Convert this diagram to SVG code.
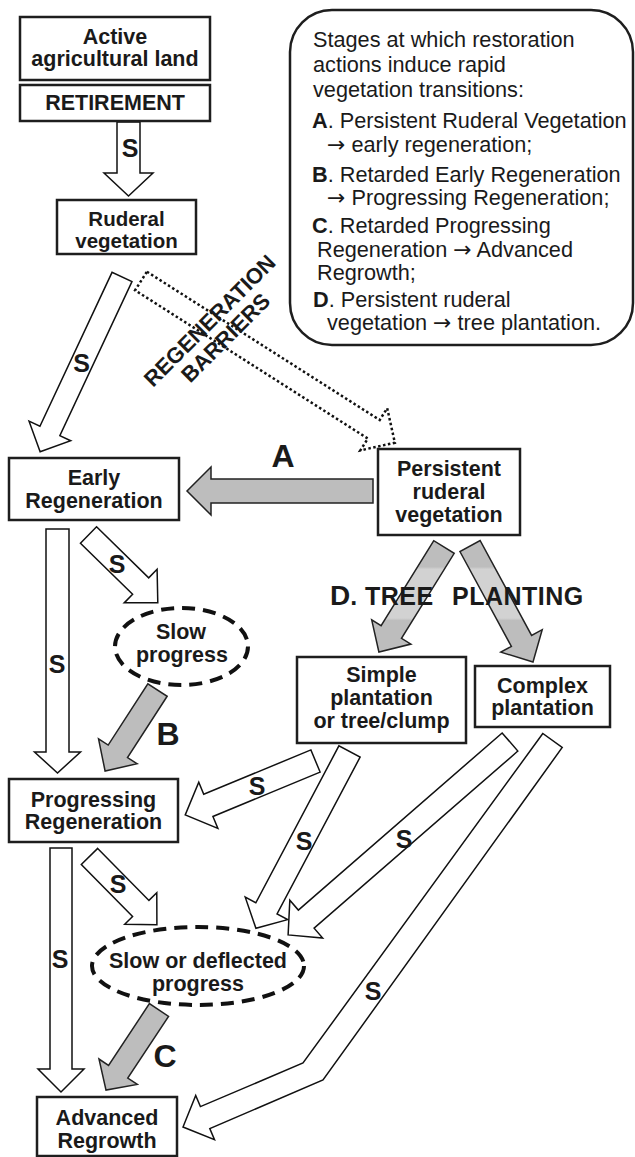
<svg xmlns="http://www.w3.org/2000/svg" width="635" height="1157" viewBox="0 0 635 1157">
<defs>
<style>
.box{fill:#fff;stroke:#1e1e1e;stroke-width:2.5}
.t{font-family:"Liberation Sans",Arial,sans-serif;font-weight:bold;font-size:21.5px;text-anchor:middle;fill:#1a1a1a}
.leg{font-family:"Liberation Sans",Arial,sans-serif;font-size:21.7px;fill:#1a1a1a}
.ar{font-family:"DejaVu Sans",sans-serif;font-size:22px}
.b{font-weight:bold}
.s{font-family:"Liberation Sans",Arial,sans-serif;font-weight:bold;font-size:25px;text-anchor:middle;fill:#1a1a1a}
.big{font-family:"Liberation Sans",Arial,sans-serif;font-weight:bold;font-size:32px;text-anchor:middle;fill:#1a1a1a}
.wa{fill:#fff;stroke:#111;stroke-width:1.5}
.ga{fill:#bdbdbd;stroke:#222;stroke-width:1.5}
.dg{fill:url(#band);stroke:#222;stroke-width:1.5}
.dot{fill:none;stroke:#111;stroke-width:2.5;stroke-dasharray:2.5 2.5}
.ell{fill:#fff;stroke:#111;stroke-width:4;stroke-dasharray:13 8}
.reg{font-family:"Liberation Sans",Arial,sans-serif;font-weight:bold;font-size:22px;text-anchor:middle;fill:#1a1a1a}
</style>
<linearGradient id="band" gradientUnits="userSpaceOnUse" x1="0" y1="540" x2="0" y2="662">
<stop offset="0" stop-color="#bdbdbd"/>
<stop offset="0.22" stop-color="#bdbdbd"/>
<stop offset="0.24" stop-color="#d2d2d2"/>
<stop offset="0.64" stop-color="#d2d2d2"/>
<stop offset="0.66" stop-color="#bdbdbd"/>
<stop offset="1" stop-color="#bdbdbd"/>
</linearGradient>
</defs>
<rect width="635" height="1157" fill="#fff"/>

<g id="connectors">
<polygon class="wa" transform="translate(128.5,122) rotate(90)" points="0,-11.5 51,-11.5 51,-24.5 74,0 51,24.5 51,11.5 0,11.5"/>
<polygon class="wa" transform="translate(122,277) rotate(115.1)" points="0,-11 170,-11 170,-23 193,0 170,23 170,11 0,11"/>
<polygon class="dot" transform="translate(141,281) rotate(32.5)" points="0,-11 276,-11 276,-25 301,0 276,25 276,11 0,11"/>
<polygon class="ga" points="373,479 211,479 211,467 187,491 211,515 211,503 373,503"/>
<polygon class="wa" transform="translate(88.5,535) rotate(44.4)" points="0,-11.5 73,-11.5 73,-23.5 97,0 73,23.5 73,11.5 0,11.5"/>
<polygon class="wa" transform="translate(57.5,529) rotate(90)" points="0,-11.5 223,-11.5 223,-23 244,0 223,23 223,11.5 0,11.5"/>
<polygon class="ga" transform="translate(157.5,690) rotate(122.9)" points="0,-11.5 73,-11.5 73,-23 96.5,0 73,23 73,11.5 0,11.5"/>
<polygon class="dg" points="433.8,540.7 381.1,625.7 371.7,619.9 378.9,652 410.9,644.1 401.5,638.3 454.2,553.3"/>
<polygon class="dg" points="459.9,551.5 511.4,646.4 500.8,652.1 533,662 542.2,629.7 531.6,635.4 480.1,540.5"/>
<polygon class="wa" transform="translate(315.5,761) rotate(157.5)" points="0,-12 116,-12 116,-25 141,0 116,25 116,12 0,12"/>
<polygon class="wa" transform="translate(349.5,751.5) rotate(117.9)" points="0,-12 177.5,-12 177.5,-24 200,0 177.5,24 177.5,12 0,12"/>
<polygon class="wa" transform="translate(510,742) rotate(139)" points="0,-12 270,-12 270,-25 294,0 270,25 270,12 0,12"/>
<polygon class="wa" points="542.8,733.5 303,1063 200.4,1106.6 195.7,1095.5 183,1127 214.5,1139.7 209.8,1128.6 323,1080 562.2,747.5"/>
<polygon class="wa" transform="translate(61,848) rotate(90)" points="0,-11 221,-11 221,-23 244,0 221,23 221,11 0,11"/>
<polygon class="wa" transform="translate(89.5,856.5) rotate(45.4)" points="0,-11.5 73,-11.5 73,-22.5 96,0 73,22.5 73,11.5 0,11.5"/>
<polygon class="ga" transform="translate(159,1010) rotate(123.5)" points="0,-11.5 74,-11.5 74,-23 96,0 74,23 74,11.5 0,11.5"/>

<text class="s" x="130" y="157">S</text>
<text class="s" x="81.5" y="372">S</text>
<text class="s" x="117" y="573">S</text>
<text class="s" x="57" y="673">S</text>
<text class="s" x="257" y="795">S</text>
<text class="s" x="304" y="850">S</text>
<text class="s" x="404" y="848">S</text>
<text class="s" x="373" y="1000">S</text>
<text class="s" x="118" y="893">S</text>
<text class="s" x="60" y="968">S</text>
<text class="big" x="283" y="467">A</text>
<text class="big" x="168" y="745">B</text>
<text class="big" x="165" y="1067">C</text>
<text class="reg" transform="translate(215,326) rotate(-45)">REGENERATION</text>
<text class="reg" transform="translate(231,343) rotate(-45)">BARRIERS</text>
<text class="t" x="330" y="605" style="text-anchor:start"><tspan style="font-size:28px">D</tspan><tspan style="font-size:25px">. </tspan><tspan x="365" style="font-size:25px;letter-spacing:0.5px">TREE </tspan><tspan x="452" style="font-size:25px;letter-spacing:0.5px">PLANTING</tspan></text>
</g>

<g id="legend">
<rect x="290" y="10" width="343" height="335" rx="42" ry="42" fill="#fff" stroke="#1e1e1e" stroke-width="2.5"/>
<text class="leg" x="313" y="47">Stages at which restoration</text>
<text class="leg" x="313" y="72">actions induce rapid</text>
<text class="leg" x="313" y="97">vegetation transitions:</text>
<text class="leg" x="312" y="128"><tspan class="b">A</tspan>. Persistent Ruderal Vegetation</text>
<text class="leg" x="327" y="152"><tspan class="ar">→</tspan> early regeneration;</text>
<text class="leg" x="312" y="182"><tspan class="b">B</tspan>. Retarded Early Regeneration</text>
<text class="leg" x="327" y="205"><tspan class="ar">→</tspan> Progressing Regeneration;</text>
<text class="leg" x="312" y="233"><tspan class="b">C</tspan>. Retarded Progressing</text>
<text class="leg" x="317" y="257">Regeneration <tspan class="ar">→</tspan> Advanced</text>
<text class="leg" x="317" y="280">Regrowth;</text>
<text class="leg" x="313" y="307"><tspan class="b">D</tspan>. Persistent ruderal</text>
<text class="leg" x="327" y="330">vegetation <tspan class="ar">→</tspan> tree plantation.</text>
</g>

<g id="active">
<rect class="box" x="20" y="17" width="190" height="63"/>
<text class="t" x="115" y="44">Active</text>
<text class="t" x="115" y="66">agricultural land</text>
</g>
<g id="retirement">
<rect class="box" x="20" y="85" width="190" height="36"/>
<text class="t" x="115" y="110">RETIREMENT</text>
</g>
<g id="ruderal">
<rect class="box" x="57" y="200" width="139" height="54"/>
<text class="t" x="126.5" y="226" style="font-size:20.5px">Ruderal</text>
<text class="t" x="126.5" y="248" style="font-size:20.5px">vegetation</text>
</g>
<g id="early">
<rect class="box" x="9" y="458" width="170" height="62"/>
<text class="t" x="94" y="485">Early</text>
<text class="t" x="94" y="508">Regeneration</text>
</g>
<g id="persistent">
<rect class="box" x="378" y="449" width="142" height="86"/>
<text class="t" x="449" y="476">Persistent</text>
<text class="t" x="449" y="499">ruderal</text>
<text class="t" x="449" y="522">vegetation</text>
</g>
<g id="slow">
<ellipse class="ell" cx="181.5" cy="646.5" rx="66.5" ry="38.5"/>
<text class="t" x="181" y="639">Slow</text>
<text class="t" x="182" y="662">progress</text>
</g>
<g id="simple">
<rect class="box" x="297" y="657" width="169" height="86"/>
<text class="t" x="381.5" y="682">Simple</text>
<text class="t" x="381.5" y="705">plantation</text>
<text class="t" x="381.5" y="728">or tree/clump</text>
</g>
<g id="complex">
<rect class="box" x="475" y="666" width="135" height="61"/>
<text class="t" x="542.5" y="693">Complex</text>
<text class="t" x="542.5" y="715">plantation</text>
</g>
<g id="progressing">
<rect class="box" x="9" y="779" width="169" height="63"/>
<text class="t" x="93.5" y="807">Progressing</text>
<text class="t" x="93.5" y="829">Regeneration</text>
</g>
<g id="slowdeflected">
<ellipse class="ell" cx="198" cy="966" rx="106" ry="39"/>
<text class="t" x="198" y="968">Slow or deflected</text>
<text class="t" x="198" y="991">progress</text>
</g>
<g id="advanced">
<rect class="box" x="37" y="1097" width="140" height="59"/>
<text class="t" x="107" y="1125">Advanced</text>
<text class="t" x="107" y="1148">Regrowth</text>
</g>
</svg>
